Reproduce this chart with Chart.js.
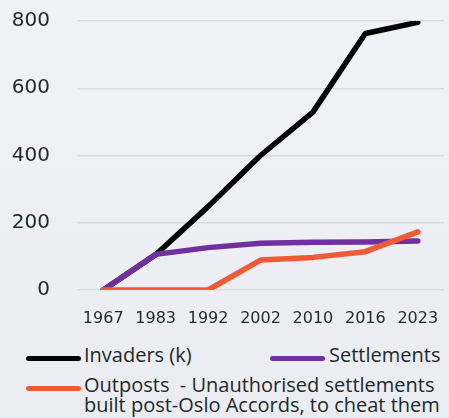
<!DOCTYPE html>
<html lang="en">
<head>
<meta charset="UTF-8">
<title>Invaders, Settlements, Outposts</title>
<script src="https://cdn.jsdelivr.net/npm/chart.js"></script>
<style>
    body {
        margin: 0;
        width: 449px;
        height: 418px;
        background: linear-gradient(#f1f2f6, #eaecf1);
        font-family: "Open Sans", sans-serif;
        color: #1c2b28;
        overflow: hidden;
        position: relative;
    }
    .wrap {
        position: absolute;
        left: 0;
        top: 0;
        width: 449px;
        height: 335px;
    }
    .item {
        position: absolute;
        font-size: 20px;
        line-height: 20px;
        white-space: nowrap;
    }
    .swatch {
        position: absolute;
        height: 5px;
        width: 55px;
        border-radius: 3px;
    }
</style>
</head>
<body>
<div class="wrap"><canvas id="chart"></canvas></div>

<div class="swatch" style="left:26px; top:356px; background:#000000;"></div>
<div class="item" style="left:84px; top:345px;">Invaders (k)</div>
<div class="swatch" style="left:270px; top:356px; background:#7030a0;"></div>
<div class="item" style="left:329px; top:345px;">Settlements</div>
<div class="swatch" style="left:26px; top:386px; background:#f15a35;"></div>
<div class="item" style="left:84px; top:375px;">Outposts &nbsp;- Unauthorised settlements<br>built post-Oslo Accords, to cheat them</div>

<script>
    const years = ['1967', '1983', '1992', '2002', '2010', '2016', '2023'];
    const invaders = [0, 105, 248, 400, 529, 763, 796];
    const settlements = [0, 106, 126, 139, 142, 143, 146];
    const outposts = [0, 0, 0, 89, 97, 114, 173];

    const textColor = '#1c2b28';

    new Chart(document.getElementById('chart'), {
        type: 'line',
        data: {
            labels: years,
            datasets: [
                { label: 'Invaders (k)', data: invaders, borderColor: '#000000', order: 3 },
                { label: 'Settlements', data: settlements, borderColor: '#7030a0', order: 2 },
                { label: 'Outposts', data: outposts, borderColor: '#f15a35', order: 1 }
            ]
        },
        options: {
            responsive: true,
            maintainAspectRatio: false,
            animation: false,
            elements: {
                line: { borderWidth: 5.5, borderCapStyle: 'round', borderJoinStyle: 'round', tension: 0 },
                point: { radius: 0 }
            },
            layout: { padding: { top: 21, right: 5, left: 0, bottom: 0 } },
            plugins: {
                legend: { display: false },
                tooltip: { enabled: false }
            },
            scales: {
                x: {
                    offset: true,
                    grid: { display: false, drawTicks: false },
                    border: { display: false },
                    ticks: {
                        padding: 19,
                        color: textColor,
                        maxRotation: 0,
                        font: { family: 'DejaVu Sans', size: 16 }
                    },
                    afterFit: (s) => {
                        s.height = 45;
                        s.paddingLeft = 0;
                        s.paddingRight = 0;
                    }
                },
                y: {
                    min: 0,
                    max: 800,
                    grid: { color: '#d9dadc', lineWidth: 1.5, drawTicks: false },
                    border: { display: false },
                    ticks: {
                        stepSize: 200,
                        padding: 27,
                        color: textColor,
                        font: { family: 'DejaVu Sans', size: 20 }
                    },
                    afterFit: (s) => {
                        s.width = 77;
                        s.paddingTop = 0;
                        s.paddingBottom = 0;
                    }
                }
            }
        }
    });
</script>
</body>
</html>
